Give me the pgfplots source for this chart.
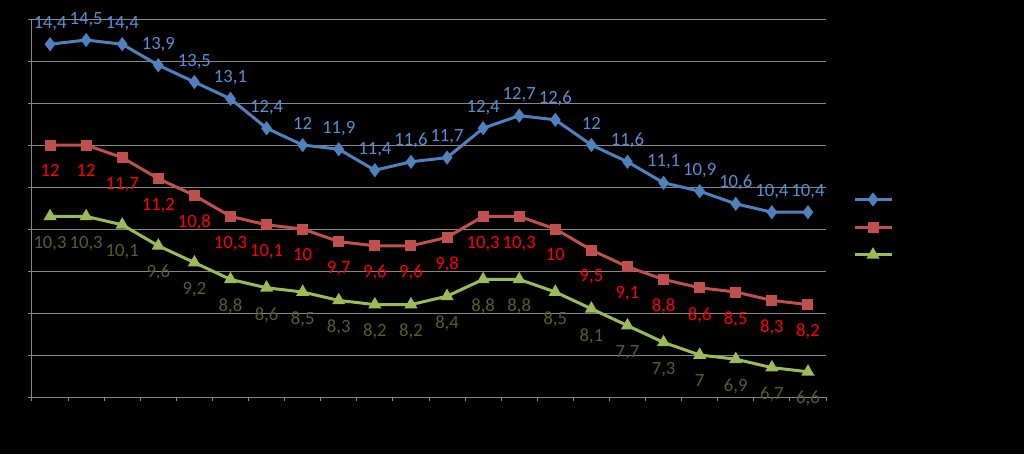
\documentclass[border=0pt]{standalone}
\usepackage{pgfplots}
\pgfplotsset{compat=1.18}
\usepackage{fontspec}
\setmainfont{Carlito}
\definecolor{bl}{HTML}{4F81BD}
\definecolor{bllab}{HTML}{558ED5}
\definecolor{rd}{HTML}{C0504D}
\definecolor{rdlab}{HTML}{FF0000}
\definecolor{gn}{HTML}{9BBB59}
\definecolor{gnlab}{HTML}{4F6228}
\definecolor{gridc}{HTML}{868686}
\pgfplotstableread{
x y
0 14.4
1 14.5
2 14.4
3 13.9
4 13.5
5 13.1
6 12.4
7 12
8 11.9
9 11.4
10 11.6
11 11.7
12 12.4
13 12.7
14 12.6
15 12
16 11.6
17 11.1
18 10.9
19 10.6
20 10.4
21 10.4
}\blue
\pgfplotstableread{
x y
0 12
1 12
2 11.7
3 11.2
4 10.8
5 10.3
6 10.1
7 10
8 9.7
9 9.6
10 9.6
11 9.8
12 10.3
13 10.3
14 10
15 9.5
16 9.1
17 8.8
18 8.6
19 8.5
20 8.3
21 8.2
}\red
\pgfplotstableread{
x y
0 10.3
1 10.3
2 10.1
3 9.6
4 9.2
5 8.8
6 8.6
7 8.5
8 8.3
9 8.2
10 8.2
11 8.4
12 8.8
13 8.8
14 8.5
15 8.1
16 7.7
17 7.3
18 7
19 6.9
20 6.7
21 6.6
}\green
\begin{document}
\begin{tikzpicture}
\useasboundingbox (0,0) rectangle (768pt,340.5pt);
\fill[black] (0,0) rectangle (768pt,340.5pt);
\begin{axis}[
  at={(24pt,42.75pt)}, anchor=south west,
  scale only axis, width=595.5pt, height=283.5pt,
  xmin=-0.5, xmax=21.5, ymin=6, ymax=15,
  axis lines*=left,
  axis line style={gridc, line width=0.75pt},
  xtick={-0.5,0.5,...,21.5}, ytick={6,7,...,15},
  xticklabels={}, yticklabels={},
  tick align=outside, major tick length=3pt,
  tick style={gridc, line width=0.75pt},
  ymajorgrids, grid style={gridc, line width=0.75pt},
  every axis plot/.append style={line width=2.25pt},
  nodes near coords, point meta=y,
  /pgf/number format/use comma,
  /pgf/number format/fixed,
  /pgf/number format/precision=1,
  /pgf/number format/assume math mode=true,
  clip=false,
  legend style={draw=none, fill=none, inner sep=0pt, outer sep=0pt,
    at={(1.034,0.4524)}, anchor=west,
    nodes={inner sep=0pt}, row sep=14.25pt},
  legend image code/.code={\draw[mark repeat=2, mark phase=2] plot coordinates {(0pt,0pt) (13.875pt,0pt) (27.75pt,0pt)};},
]
\addplot[bl, mark=diamond*, mark size=3.5pt,
  every node near coord/.style={text=bllab, anchor=base, yshift=12pt, inner sep=0pt, font=\fontsize{14}{16}\selectfont}]
  table {\blue};
\addlegendentry{}
\addplot[rd, mark=square*, mark size=3pt,
  every node near coord/.style={text=rdlab, anchor=north, yshift=-13.5pt, inner sep=0pt, font=\fontsize{14}{16}\selectfont}]
  table {\red};
\addlegendentry{}
\addplot[gn, mark=triangle*, mark size=3.5pt,
  every node near coord/.style={text=gnlab, anchor=north, yshift=-13.5pt, inner sep=0pt, font=\fontsize{14}{16}\selectfont}]
  table {\green};
\addlegendentry{}
\end{axis}
\end{tikzpicture}
\end{document}
